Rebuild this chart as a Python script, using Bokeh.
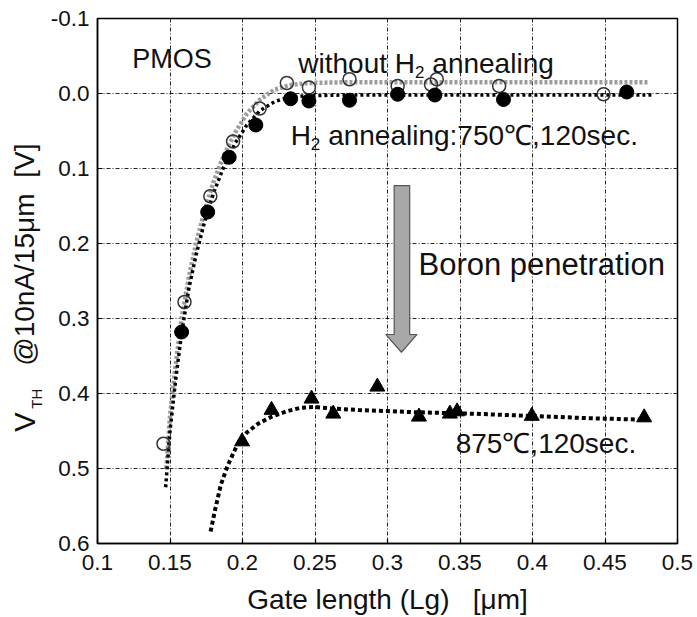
import math
from bokeh.plotting import figure
from bokeh.layouts import row
from bokeh.models import Range1d, FixedTicker, Label
from bokeh.embed import file_html
from bokeh.resources import INLINE

# ---------------- data ----------------
x_ticks = [0.1, 0.15, 0.2, 0.25, 0.3, 0.35, 0.4, 0.45, 0.5]
x_tick_labels = ["0.1", "0.15", "0.2", "0.25", "0.3", "0.35", "0.4", "0.45", "0.5"]
y_ticks = [-0.1, 0.0, 0.1, 0.2, 0.3, 0.4, 0.5, 0.6]
y_tick_labels = ["-0.1", "0.0", "0.1", "0.2", "0.3", "0.4", "0.5", "0.6"]

# without H2 annealing (open circles)
open_x = [0.1455, 0.160, 0.1778, 0.1935, 0.2118, 0.2306, 0.2458, 0.2738, 0.307, 0.330, 0.334, 0.377, 0.449]
open_y = [0.467, 0.278, 0.137, 0.064, 0.020, -0.014, -0.008, -0.019, -0.010, -0.012, -0.019, -0.010, 0.001]

# H2 annealing 750C, 120 sec (filled circles)
filled_x = [0.158, 0.176, 0.1908, 0.2092, 0.2332, 0.2458, 0.2738, 0.307, 0.3327, 0.380, 0.465]
filled_y = [0.318, 0.158, 0.085, 0.042, 0.007, 0.010, 0.009, 0.001, 0.002, 0.008, -0.002]

# 875C, 120 sec (triangles)
tri_x = [0.1997, 0.220, 0.2476, 0.2626, 0.293, 0.3217, 0.343, 0.348, 0.3995, 0.477]
tri_y = [0.464, 0.422, 0.407, 0.427, 0.391, 0.431, 0.427, 0.424, 0.430, 0.432]

# dotted trend curves
gray_x = [0.1475, 0.150, 0.154, 0.158, 0.163, 0.168, 0.174, 0.180, 0.187, 0.195, 0.203, 0.212, 0.222, 0.232, 0.245, 0.27, 0.32, 0.40, 0.48]
gray_y = [0.50, 0.43, 0.36, 0.30, 0.245, 0.20, 0.155, 0.118, 0.083, 0.052, 0.027, 0.008, -0.005, -0.011, -0.014, -0.015, -0.015, -0.015, -0.015]

black_x = [0.147, 0.150, 0.154, 0.158, 0.163, 0.168, 0.174, 0.180, 0.187, 0.195, 0.203, 0.212, 0.222, 0.232, 0.245, 0.27, 0.32, 0.40, 0.482]
black_y = [0.525, 0.45, 0.38, 0.32, 0.26, 0.215, 0.17, 0.133, 0.098, 0.066, 0.042, 0.023, 0.011, 0.005, 0.003, 0.002, 0.002, 0.002, 0.002]

c875_x = [0.178, 0.181, 0.185, 0.190, 0.196, 0.203, 0.211, 0.220, 0.230, 0.240, 0.250, 0.262, 0.28, 0.32, 0.36, 0.40, 0.44, 0.479]
c875_y = [0.584, 0.556, 0.522, 0.495, 0.470, 0.452, 0.440, 0.431, 0.424, 0.419, 0.418, 0.420, 0.422, 0.425, 0.427, 0.430, 0.433, 0.435]

# block arrow ("Boron penetration")
arrow_x = [0.3046, 0.3153, 0.3153, 0.3204, 0.3096, 0.2988, 0.3046]
arrow_y = [0.1227, 0.1227, 0.3213, 0.3213, 0.345, 0.3213, 0.3213]

FONT = "Liberation Sans"
TXT = "#111111"

# ---------------- main plot ----------------
p = figure(width=653, height=617,
           x_range=Range1d(0.1, 0.5), y_range=Range1d(0.6, -0.1),
           output_backend="svg", toolbar_location=None,
           min_border_left=53, min_border_right=20,
           min_border_top=18, min_border_bottom=73)
p.background_fill_color = "white"
p.border_fill_color = "white"
p.outline_line_color = "black"
p.outline_line_width = 1.5

for ax, ticks, labels in ((p.xaxis[0], x_ticks, x_tick_labels), (p.yaxis[0], y_ticks, y_tick_labels)):
    ax.ticker = FixedTicker(ticks=ticks)
    ax.major_label_overrides = dict(zip(ticks, labels))
    ax.axis_line_color = "black"
    ax.axis_line_width = 1.5
    ax.major_tick_in = 5
    ax.major_tick_out = 0
    ax.major_tick_line_color = "black"
    ax.major_tick_line_width = 1.2
    ax.minor_tick_line_color = None
    ax.major_label_text_font = FONT
    ax.major_label_text_font_size = "22.5px"
    ax.major_label_text_color = TXT
    ax.major_label_standoff = 8

p.xaxis[0].major_label_standoff = 11
p.xaxis[0].axis_label = "Gate length (Lg)\u00a0 \u00a0[μm]"
p.xaxis[0].axis_label_text_font = FONT
p.xaxis[0].axis_label_text_font_size = "28px"
p.xaxis[0].axis_label_text_font_style = "normal"
p.xaxis[0].axis_label_text_color = TXT
p.xaxis[0].axis_label_standoff = 11

for g in (p.xgrid, p.ygrid):
    g.grid_line_color = "black"
    g.grid_line_alpha = 0.85
    g.grid_line_width = 1
    g.grid_line_dash = "4 2 1 2"

# curves
p.line(gray_x, gray_y, line_color="#9c9c9c", line_width=4.5, line_dash="3 2")
p.line(black_x, black_y, line_color="black", line_width=3.5, line_dash="3 3")
p.line(c875_x, c875_y, line_color="black", line_width=4, line_dash="4 3")

# markers
p.scatter(open_x, open_y, marker="circle", size=13, fill_alpha=0,
          line_color="#333333", line_width=1.5)
p.scatter(filled_x, filled_y, marker="circle", size=14, fill_color="black",
          line_color="black")
p.scatter(tri_x, tri_y, marker="triangle", size=15, fill_color="black",
          line_color="black")

# arrow
p.patch(arrow_x, arrow_y, fill_color="#a8a8a8", line_color="#555555", line_width=1.2)


def txt(fig, x, y, s, size, dx=0, dy=0, angle=0.0):
    fig.add_layout(Label(x=x, y=y, text=s, x_offset=dx, y_offset=dy, angle=angle,
                         text_font=FONT, text_font_size=f"{size}px",
                         text_color=TXT, text_align="left",
                         text_baseline="alphabetic"))


txt(p, 0.124, -0.0457, "PMOS", 27)

# without H2 annealing
txt(p, 0.2385, -0.040, "without H", 28)
txt(p, 0.2385, -0.040, "2", 17, dx=116.7, dy=-8)
txt(p, 0.2385, -0.040, "annealing", 28, dx=134)

# H2 annealing:750C,120sec.
txt(p, 0.2332, 0.056, "H", 28)
txt(p, 0.2332, 0.056, "2", 17, dx=20.2, dy=-8)
txt(p, 0.2332, 0.056, "annealing:750℃,120sec.", 28, dx=37.5)

txt(p, 0.3214, 0.2276, "Boron penetration", 31)
txt(p, 0.347, 0.467, "875℃,120sec.", 28)

# ---------------- y-axis title strip (frame aligned with the main frame) ----------------
yt = figure(width=44, height=617, x_range=Range1d(0, 44), y_range=Range1d(544, 18),
            output_backend="svg", toolbar_location=None,
            x_axis_location=None, y_axis_location=None, min_border=0)
yt.outline_line_color = None
yt.background_fill_color = "white"
yt.border_fill_color = "white"
yt.grid.visible = False

ya = math.pi / 2
txt(yt, 24, 432, "V", 29, angle=ya)
txt(yt, 24, 432, "TH", 15, dx=12, dy=23, angle=ya)
txt(yt, 24, 432, "@10nA/15μm", 28, dy=66, angle=ya)
txt(yt, 24, 432, "[V]", 28, dy=254, angle=ya)

layout = row(yt, p)
open("out.html", "w").write(file_html(layout, INLINE))
